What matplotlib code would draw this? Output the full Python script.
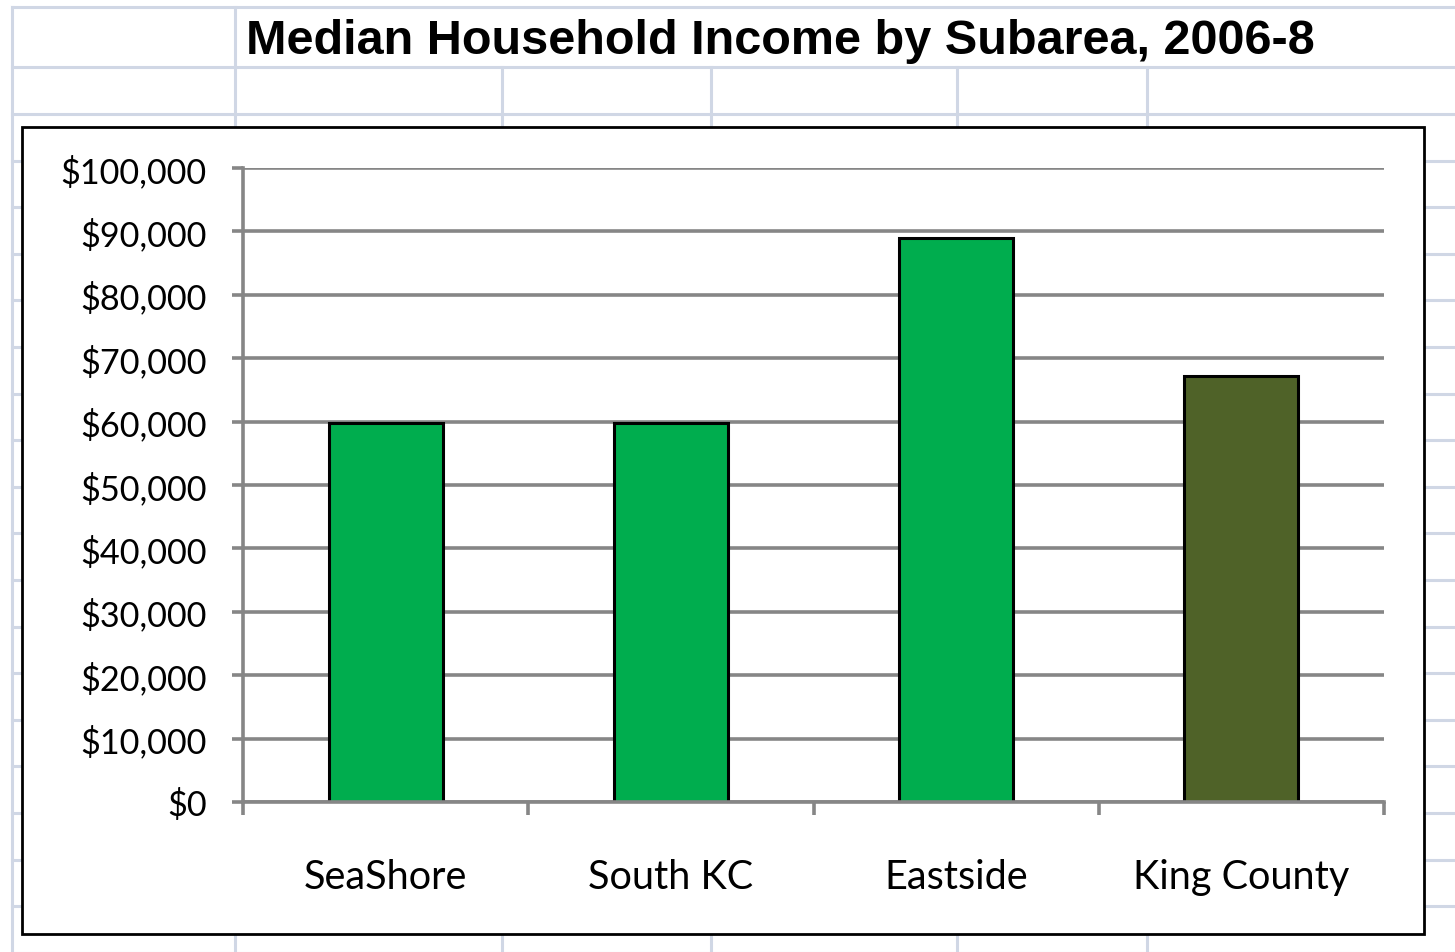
import matplotlib
matplotlib.use("Agg")
import matplotlib.pyplot as plt
from matplotlib.lines import Line2D
from matplotlib.patches import Rectangle
from matplotlib.ticker import FuncFormatter, FixedLocator

# data
areas = ["SeaShore", "South KC", "Eastside", "King County"]
income = [59800, 59800, 88900, 67200]
bar_colors = ["#00AD4E", "#00AD4E", "#00AD4E", "#4F6228"]
title = "Median Household Income by Subarea, 2006-8"

W, H = 1455, 953
fig = plt.figure(figsize=(W / 100, H / 100), dpi=100)
fig.patch.set_facecolor("white")

def px(x, y):
    # pixel coords (top-left origin) -> figure fraction
    return x / W, 1 - y / H

# spreadsheet cell grid behind the chart
grid_col = "#D0D7E5"
rows = [8, 68, 115] + [115 + 46.6 * i for i in range(1, 19)]
cols = [12, 235, 502, 711, 957, 1147]
for y in rows:
    fig.add_artist(Line2D([12 / W, 1], [1 - y / H, 1 - y / H], color=grid_col, lw=2.2, zorder=0))
for x in cols:
    y_top = 8 if x in (12, 235) else 68
    fig.add_artist(Line2D([x / W, x / W], [1 - y_top / H, 0], color=grid_col, lw=2.2, zorder=0))

# title sits in the merged cell above the chart
fig.text(*px(246, 41), title, ha="left", va="center", fontsize=35,
         fontweight="bold", family="Liberation Sans", zorder=2)

# chart box
x0, y0 = px(22, 935)
x1, y1 = px(1424, 128)
fig.add_artist(Rectangle((x0, y0), x1 - x0, y1 - y0, transform=fig.transFigure,
                         facecolor="white", edgecolor="black", lw=2.0, zorder=1))

l, b = px(243, 803)
r, t = px(1384, 169)
ax = fig.add_axes([l, b, r - l, t - b], zorder=3)
ax.patch.set_alpha(0)

gray = "#868686"
pos = list(range(len(areas)))
ax.bar(pos, income, width=0.4, color=bar_colors, edgecolor="black", linewidth=2.2, zorder=3)

ax.set_xlim(-0.5, len(areas) - 0.5)
ax.set_ylim(0, 100000)
ax.yaxis.set_major_locator(FixedLocator(range(0, 100001, 10000)))
ax.yaxis.set_major_formatter(FuncFormatter(lambda v, p: "${:,.0f}".format(v)))
ax.grid(axis="y", color=gray, lw=2.6, zorder=1)
ax.set_axisbelow(True)

ax.set_xticks(pos)
ax.set_xticklabels(areas)
ax.set_xticks([p - 0.5 for p in pos] + [len(areas) - 0.5], minor=True)
ax.tick_params(axis="x", which="major", length=0, pad=40)
ax.tick_params(axis="x", which="minor", length=9, width=2.6, color=gray, direction="out")
ax.tick_params(axis="y", length=8, width=2.6, color=gray, direction="out", pad=18)

for lab in ax.get_xticklabels():
    lab.set_family("Lato")
    lab.set_fontsize(28.5)
for lab in ax.get_yticklabels():
    lab.set_family("Lato")
    lab.set_fontsize(24.7)

for s in ("top", "right"):
    ax.spines[s].set_visible(False)
for s in ("left", "bottom"):
    ax.spines[s].set_color(gray)
    ax.spines[s].set_linewidth(2.6)
    ax.spines[s].set_zorder(4)

fig.savefig("out.png", dpi=100)
